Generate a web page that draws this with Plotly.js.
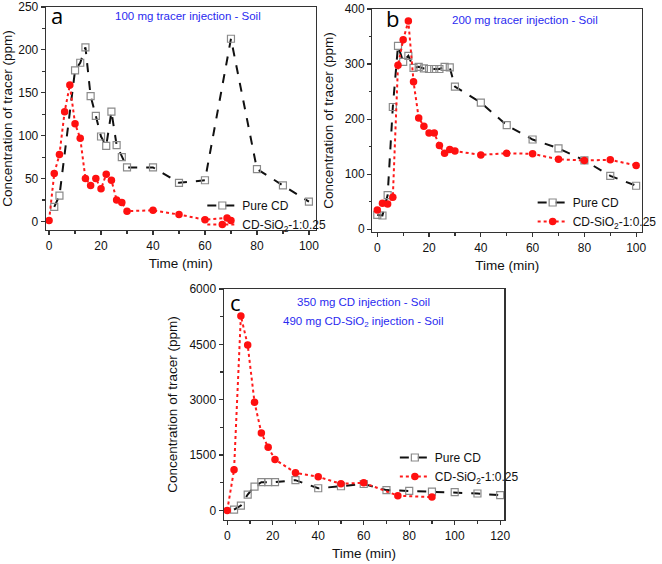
<!DOCTYPE html>
<html>
<head>
<meta charset="utf-8">
<script src="https://cdn.plot.ly/plotly-3.0.1.min.js"></script>
<style>html,body{margin:0;padding:0;background:#fff;}#chart{width:662px;height:564px;}</style>
</head>
<body>
<div id="chart"></div>
<script>
// Panel a: 100 mg tracer injection - Soil
const aPureT = [2, 4, 10, 12, 14, 16, 18, 20, 22, 24, 26, 28, 30, 40, 50, 60, 70, 80, 90, 100];
const aPureC = [17, 30, 176, 185, 203, 146, 123, 99, 88, 128, 89, 75, 63, 63, 45, 48, 213, 61, 42, 23];
const aSiT = [0, 2, 4, 6, 8, 10, 12, 14, 16, 18, 20, 22, 24, 26, 28, 30, 40, 50, 60, 68.5, 70];
const aSiC = [1, 56, 78, 128, 159, 114, 97, 50, 42, 50, 38, 55, 48, 25, 22, 12, 13, 8, 2, 4, 1];

// Panel b: 200 mg tracer injection - Soil
const bPureT = [0, 2, 4, 6, 8, 10, 12, 14, 16, 18, 20, 22, 24, 26, 28, 30, 40, 50, 60, 70, 80, 90, 100];
const bPureC = [26, 25, 62, 222, 333, 304, 315, 293, 295, 292, 291, 291, 291, 295, 294, 259, 230, 189, 163, 147, 125, 97, 79];
const bSiT = [0, 2, 4, 6, 8, 10, 12, 14, 16, 18, 20, 22, 24, 26, 28, 30, 40, 50, 60, 70, 80, 90, 100];
const bSiC = [35, 47, 46, 58, 298, 344, 378, 268, 202, 187, 175, 175, 152, 138, 145, 142, 135, 138, 137, 127, 125, 126, 116];

// Panel c: 350 mg CD / 490 mg CD-SiO2 injection - Soil
const cPureT = [3, 6, 9, 12, 15, 18, 21, 30, 40, 50, 60, 70, 80, 90, 100, 110, 120];
const cPureC = [20, 130, 430, 645, 765, 765, 765, 820, 600, 655, 715, 550, 530, 510, 495, 458, 412];
const cSiT = [0, 3, 6, 9, 12, 15, 18, 21, 30, 40, 50, 60, 75, 90];
const cSiC = [0, 1100, 5270, 4480, 2930, 2100, 1710, 1380, 1020, 910, 720, 750, 400, 360];

const seriesNames = ['Pure CD', 'CD-SiO<sub>2</sub>-1:0.25'];
const xTitle = 'Time (min)';
const yTitle = 'Concentration of tracer (ppm)';

const W = 662, H = 564;
const px = v => v / W;
const py = v => 1 - v / H;

function pure(x, y, xa, ya, lg) {
  return {x: x, y: y, xaxis: xa, yaxis: ya, legend: lg, name: seriesNames[0], type: 'scatter', mode: 'lines+markers',
    line: {color: '#111111', width: 2, dash: 'dash'},
    marker: {symbol: 'square-open', size: 7, color: '#8a8a8a', line: {width: 1.2, color: '#8a8a8a'}}};
}
function si(x, y, xa, ya, lg) {
  return {x: x, y: y, xaxis: xa, yaxis: ya, legend: lg, name: seriesNames[1], type: 'scatter', mode: 'lines+markers',
    line: {color: '#ff1a1a', width: 2, dash: 'dot'},
    marker: {symbol: 'circle', size: 7.5, color: '#ff1010'}};
}

const data = [
  pure(aPureT, aPureC, 'x', 'y', 'legend'),
  si(aSiT, aSiC, 'x', 'y', 'legend'),
  pure(bPureT, bPureC, 'x2', 'y2', 'legend2'),
  si(bSiT, bSiC, 'x2', 'y2', 'legend2'),
  pure(cPureT, cPureC, 'x3', 'y3', 'legend3'),
  si(cSiT, cSiC, 'x3', 'y3', 'legend3')
];

const tickFont = {family: 'Liberation Sans, Arial, sans-serif', size: 12, color: '#111'};
const titleFont = {family: 'Liberation Sans, Arial, sans-serif', size: 13.5, color: '#111'};

function xax(dom, range, anchor) {
  return {domain: dom, range: range, anchor: anchor, showgrid: false, zeroline: false,
    showline: true, linecolor: '#333', linewidth: 1.3, mirror: true,
    ticks: 'outside', ticklen: 4, tickcolor: '#333', tickwidth: 1.2, dtick: 20, tick0: 0,
    minor: {ticks: 'outside', ticklen: 2.5, dtick: 10, tickcolor: '#333'},
    tickfont: tickFont, title: {text: xTitle, font: titleFont, standoff: 6}};
}
function yax(dom, range, anchor, dtick) {
  return {domain: dom, range: range, anchor: anchor, showgrid: false, zeroline: false,
    showline: true, linecolor: '#333', linewidth: 1.3, mirror: true,
    ticks: 'outside', ticklen: 4, tickcolor: '#333', tickwidth: 1.2, dtick: dtick, tick0: 0,
    minor: {ticks: 'outside', ticklen: 2.5, dtick: dtick / 2, tickcolor: '#333'},
    tickfont: tickFont, title: {text: yTitle, font: titleFont, standoff: 8}};
}

function leg(x, y) {
  return {x: px(x), y: py(y), xanchor: 'left', yanchor: 'top', bgcolor: 'rgba(0,0,0,0)',
    font: {family: 'Liberation Sans, Arial, sans-serif', size: 12, color: '#111'},
    itemwidth: 30, tracegroupgap: 0, traceorder: 'normal'};
}

const blue = '#2a2af0';
const annFont = {family: 'Liberation Sans, Arial, sans-serif', size: 11.5, color: blue};
const letterFont = {family: 'Open Sans, DejaVu Sans, sans-serif', size: 22, color: '#000'};

function ann(text, x, y, font) {
  return {text: text, x: px(x), y: py(y), xref: 'paper', yref: 'paper', showarrow: false,
    xanchor: 'center', yanchor: 'middle', font: font};
}

const layout = {
  width: W, height: H, margin: {l: 0, r: 0, t: 0, b: 0},
  paper_bgcolor: '#fff', plot_bgcolor: '#fff', showlegend: true,
  xaxis: xax([px(47), px(323)], [-1.2, 102.6], 'y'),
  yaxis: yax([py(230), py(7)], [-10, 250], 'x', 50),
  xaxis2: xax([px(381), px(657)], [-1.9, 102.3], 'y2'),
  yaxis2: yax([py(232), py(9)], [-5, 400], 'x2', 100),
  xaxis3: xax([px(229), px(516)], [-1.5, 121.8], 'y3'),
  yaxis3: yax([py(520), py(289)], [-260, 6000], 'x3', 1500),
  legend: leg(207, 191),
  legend2: leg(545, 188),
  legend3: leg(404, 443),
  annotations: [
    ann('100 mg tracer injection - Soil', 192, 16, annFont),
    ann('200 mg tracer injection - Soil', 537, 20, annFont),
    ann('350 mg CD injection - Soil', 372, 302, annFont),
    ann('490 mg CD-SiO<sub>2</sub> injection - Soil', 371, 322, annFont),
    ann('a', 58, 15, letterFont),
    ann('b', 402, 18, letterFont),
    ann('c', 241, 302, letterFont)
  ]
};

Plotly.newPlot('chart', data, layout, {displayModeBar: false, staticPlot: true});
</script>
</body>
</html>
